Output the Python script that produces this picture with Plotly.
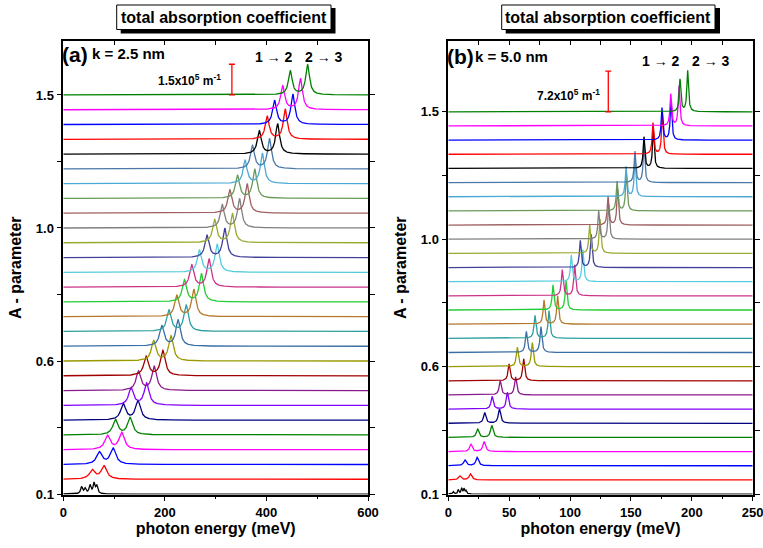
import numpy as np
import plotly.graph_objects as go

W, H = 763, 548
FONT = "Liberation Sans, Arial, sans-serif"

colors = ["#000000", "#FF0000", "#0000FF", "#FF00FF", "#008000", "#000080", "#8000FF",
          "#8B1A8B", "#A00000", "#999900", "#3A6EA5", "#2E9E9E", "#B5782A", "#22CC33",
          "#CC3388", "#55CCDD", "#404099", "#9AAA30", "#808080", "#9E6060", "#6A9A5A",
          "#4AAAD5", "#4A78A8", "#000000", "#FF0000", "#0000FF", "#FF00FF", "#008000"]

y_tick_labels = ["0.1", "0.6", "1.0", "1.5"]
y_tick_index = [0, 9, 18, 27]
y_minor_index = [4.5, 13.5, 22.5]

# ---------------- panel (a): k = 2.5 nm ----------------
a_E12 = [0, 57, 71, 87, 102.5, 118, 133.5, 148, 163, 178, 194, 208, 223.5, 238.5, 253,
         268, 283, 298, 313, 328, 343, 358, 372.5, 386, 401.5, 416, 432, 447]
a_E23 = [0, 80, 98, 115, 131.5, 147, 164, 179, 196, 212, 226, 242, 257, 272, 287,
         303, 318, 333, 347, 362, 377, 392, 406, 422, 437, 452, 467, 481]
# peak heights in 1e5 m^-1
a_h12 = [0, 0.44, 0.59, 0.68, 0.73, 0.78, 0.83, 0.93, 0.93, 0.98, 0.98, 1.03, 1.03, 1.07,
         1.07, 1.07, 1.07, 1.12, 1.12, 1.12, 1.12, 1.12, 1.12, 1.12, 1.12, 1.17, 1.17, 1.17]
a_h23 = [0, 0.64, 0.78, 0.83, 0.83, 0.93, 1.07, 1.17, 1.22, 1.22, 1.27, 1.27, 1.32, 1.37,
         1.37, 1.37, 1.42, 1.42, 1.42, 1.42, 1.42, 1.47, 1.47, 1.47, 1.47, 1.47, 1.51, 1.47]
a_hwhm = [2.2, 6.5, 6.5, 6.3, 6.0, 6.0, 5.8, 5.6, 5.5, 5.4, 5.3, 5.2, 5.1, 5.0, 5.0, 5.0,
          4.9, 4.9, 4.8, 4.8, 4.8, 4.7, 4.7, 4.7, 4.6, 4.6, 4.6, 4.5]
a_low_E = [36, 43, 52.6, 60.5, 66]         # lowest curve: ragged cluster
a_low_h = [0.34, 0.25, 0.41, 0.50, 0.38]
a_offset = 0.722        # 1e5 m^-1 per curve step
a_bar_x, a_bar_len = 332, 1.5

# ---------------- panel (b): k = 5.0 nm ----------------
b_E12 = [0, 9.5, 13.7, 18.6, 24.1, 29.9, 36.0, 42.6, 49.9, 56.7, 64.1, 71.2, 78.6, 86.0,
         93.6, 101.0, 108.4, 116.1, 123.5, 131.2, 138.6, 146.0, 153.3, 160.7, 168.1, 175.5,
         182.7, 190.3]
b_E23 = [0, 18.2, 23.7, 29.4, 35.7, 42.0, 48.5, 55.3, 61.9, 69.0, 76.1, 82.7, 89.8, 96.7,
         103.8, 110.5, 117.4, 124.6, 131.7, 139.1, 146.2, 153.3, 160.7, 168.4, 175.8, 182.9,
         189.5, 196.6]
b_h12 = [0, 0.71, 1.01, 1.29, 1.47, 1.89, 2.25, 2.50, 2.95, 3.41, 3.71, 4.02, 4.25, 4.42,
         4.60, 4.69, 4.78, 4.95, 5.04, 5.13, 5.22, 5.31, 5.48, 5.54, 5.54, 5.66, 5.61, 5.71]
b_h23 = [0, 1.06, 1.47, 1.77, 2.12, 2.53, 2.95, 3.18, 3.89, 4.25, 4.55, 4.90, 5.01, 5.13,
         5.48, 5.66, 5.84, 6.01, 6.19, 6.37, 6.55, 6.63, 6.72, 6.81, 6.90, 6.99, 7.08, 7.25]
b_hwhm = [0.6, 1.3, 1.3, 1.25, 1.2, 1.15, 1.1, 1.05, 1.0, 1.0, 0.95, 0.95, 0.9, 0.9, 0.9,
          0.85, 0.85, 0.85, 0.8, 0.8, 0.8, 0.8, 0.8, 0.8, 0.8, 0.8, 0.8, 0.8]
b_low_E = [4.1, 8.2, 11.0, 12.9, 14.5]
b_low_h = [0.41, 0.71, 1.01, 0.88, 0.58]
b_offset = 2.505
b_bar_x, b_bar_len = 131.4, 7.2


def lor(x, e, h, g):
    return h * g * g / ((x - e) ** 2 + g * g)


fig = go.Figure()

panels = [
    dict(E12=a_E12, E23=a_E23, h12=a_h12, h23=a_h23, g=a_hwhm, lowE=a_low_E, lowh=a_low_h,
         off=a_offset, xmax=600, step=0.25, xa="x", ya="y", bar_x=a_bar_x, bar_len=a_bar_len),
    dict(E12=b_E12, E23=b_E23, h12=b_h12, h23=b_h23, g=b_hwhm, lowE=b_low_E, lowh=b_low_h,
         off=b_offset, xmax=250, step=0.1, xa="x2", ya="y2", bar_x=b_bar_x, bar_len=b_bar_len),
]

for p in panels:
    x = np.arange(0, p["xmax"] + p["step"] / 2, p["step"])
    n = len(p["E12"])
    for i in range(n):
        if i == 0:
            y = np.zeros_like(x)
            for e, h in zip(p["lowE"], p["lowh"]):
                y += lor(x, e, h, p["g"][0])
        else:
            y = lor(x, p["E12"][i], p["h12"][i], p["g"][i]) + lor(x, p["E23"][i], p["h23"][i], p["g"][i])
        fig.add_trace(go.Scatter(x=x, y=y + i * p["off"], mode="lines",
                                 line=dict(color=colors[i], width=1.3),
                                 xaxis=p["xa"], yaxis=p["ya"], showlegend=False,
                                 hoverinfo="skip"))
    # scale bar
    base = (n - 1) * p["off"]
    fig.add_trace(go.Scatter(x=[p["bar_x"]], y=[base + p["bar_len"] / 2], mode="markers",
                             marker=dict(size=1, opacity=0),
                             error_y=dict(type="data", array=[p["bar_len"] / 2], width=3,
                                          thickness=1.3, color="#FF0000"),
                             xaxis=p["xa"], yaxis=p["ya"], showlegend=False, hoverinfo="skip"))

# invisible traces for top tick overlay axes
fig.add_trace(go.Scatter(x=[None], y=[None], xaxis="x3", yaxis="y", showlegend=False))
fig.add_trace(go.Scatter(x=[None], y=[None], xaxis="x4", yaxis="y2", showlegend=False))

# geometry (pixels)
ax_a = (63.3, 368.0)
ax_b = (448.3, 752.7)
top_px, bot_px = 41.0, 494.5


def dom_x(a):
    return [a[0] / W, a[1] / W]


ydom = [1 - bot_px / H, 1 - top_px / H]
tickfont = dict(family=FONT, size=13, color="black")

common_x = dict(showline=True, linecolor="black", linewidth=1.6, mirror=True, ticks="outside",
                ticklen=5, tickwidth=1.3, tickcolor="black", showgrid=False, zeroline=False,
                tickfont=tickfont, ticklabeloverflow="allow")
minor_x = dict(ticks="outside", ticklen=3, tickwidth=1.3, tickcolor="black")
common_y = dict(showline=True, linecolor="black", linewidth=1.6, mirror="allticks", ticks="outside",
                ticklen=5, tickwidth=1.3, tickcolor="black", showgrid=False, zeroline=False,
                tickfont=tickfont)


def yticks(off):
    vals = [i * off for i in y_tick_index]
    texts = ["<b>%s</b>" % t for t in y_tick_labels]
    minor = [i * off for i in y_minor_index]
    return vals, texts, minor


ya_vals, ya_text, ya_minor = yticks(a_offset)
yb_vals, yb_text, yb_minor = yticks(b_offset)
xtitle = dict(text="<b>photon energy (meV)</b>", font=dict(size=16, family=FONT), standoff=3)
ytitle = dict(text="<b>A - parameter</b>", font=dict(size=16, family=FONT), standoff=10)

fig.update_layout(
    width=W, height=H, plot_bgcolor="white", paper_bgcolor="white",
    margin=dict(l=0, r=0, t=0, b=0, autoexpand=False),
    font=dict(family=FONT, color="black"),
    xaxis=dict(common_x, domain=dom_x(ax_a), range=[0, 600], tickvals=[0, 200, 400, 600],
               ticktext=["<b>0</b>", "<b>200</b>", "<b>400</b>", "<b>600</b>"],
               minor=dict(minor_x, tickvals=[100, 300, 500]), anchor="y", title=xtitle),
    yaxis=dict(common_y, domain=ydom, range=[-0.03 * a_offset, 30.65 * a_offset],
               tickvals=ya_vals, ticktext=ya_text, anchor="x",
               minor=dict(minor_x, ticklen=5, tickvals=ya_minor), title=ytitle),
    xaxis2=dict(common_x, domain=dom_x(ax_b), range=[0, 250], tickvals=[0, 50, 100, 150, 200, 250],
                ticktext=["<b>%d</b>" % v for v in [0, 50, 100, 150, 200, 250]],
                minor=dict(minor_x, tickvals=[25, 75, 125, 175, 225]), anchor="y2", title=xtitle),
    yaxis2=dict(common_y, domain=ydom, range=[-0.03 * b_offset, 32.0 * b_offset],
                tickvals=yb_vals, ticktext=yb_text, anchor="x2",
                minor=dict(minor_x, ticklen=5, tickvals=yb_minor), title=ytitle),
    xaxis3=dict(overlaying="x", side="top", anchor="y", range=[0, 600], showline=False,
                ticks="inside", ticklen=4, tickwidth=1.3, tickcolor="black", dtick=100,
                showticklabels=False, showgrid=False, zeroline=False),
    xaxis4=dict(overlaying="x2", side="top", anchor="y2", range=[0, 250], showline=False,
                ticks="inside", ticklen=4, tickwidth=1.3, tickcolor="black", dtick=25,
                showticklabels=False, showgrid=False, zeroline=False),
)


def px(xp, yp):
    return xp / W, 1 - yp / H


shapes = []
annots = []
for (bx0, bx1, sx1) in [(116.7, 331.0, 335.5), (501.7, 715.0, 720.0)]:
    sx0, sy0 = px(bx0 + 4, 33.5)
    sx1p, sy1 = px(sx1, 8)
    shapes.append(dict(type="rect", xref="paper", yref="paper", x0=sx0, x1=sx1p, y0=sy0, y1=sy1,
                       fillcolor="black", line=dict(width=0), layer="above"))
    x0, y0 = px(bx0, 29.5)
    x1, y1 = px(bx1, 5)
    shapes.append(dict(type="rect", xref="paper", yref="paper", x0=x0, x1=x1, y0=y0, y1=y1,
                       fillcolor="white", line=dict(color="black", width=1), layer="above"))
    cx, cy = px((bx0 + bx1) / 2, 17.5)
    annots.append(dict(text="<b>total absorption coefficient</b>", xref="paper", yref="paper",
                       x=cx, y=cy, showarrow=False, xanchor="center", yanchor="middle",
                       font=dict(size=16, family=FONT, color="black")))

texts = [
    ("<b>(a)</b>", 60, 54, 21, "left"),
    ("<b>k = 2.5 nm</b>", 90, 53.5, 15, "left"),
    ("<b>1 \u2192 2</b>", 274, 57, 14, "center"),
    ("<b>2 \u2192 3</b>", 324, 57, 14, "center"),
    ("<b>1.5x10<sup>5</sup> m<sup>-1</sup></b>", 223, 80, 12, "right"),
    ("<b>(b)</b>", 445, 57, 21, "left"),
    ("<b>k = 5.0 nm</b>", 473, 56.5, 15, "left"),
    ("<b>1 \u2192 2</b>", 661, 61, 14, "center"),
    ("<b>2 \u2192 3</b>", 710.5, 61, 14, "center"),
    ("<b>7.2x10<sup>5</sup> m<sup>-1</sup></b>", 602, 95, 12, "right"),
]
for t, xp, yp, fs, anc in texts:
    xx, yy = px(xp, yp)
    annots.append(dict(text=t, xref="paper", yref="paper", x=xx, y=yy, showarrow=False,
                       xanchor=anc, yanchor="middle", font=dict(size=fs, family=FONT, color="black")))

fig.update_layout(shapes=shapes, annotations=annots)
fig.write_html("out.html", config={"displayModeBar": False},
               post_script="document.body.style.margin='0';document.body.style.overflow='hidden';")
